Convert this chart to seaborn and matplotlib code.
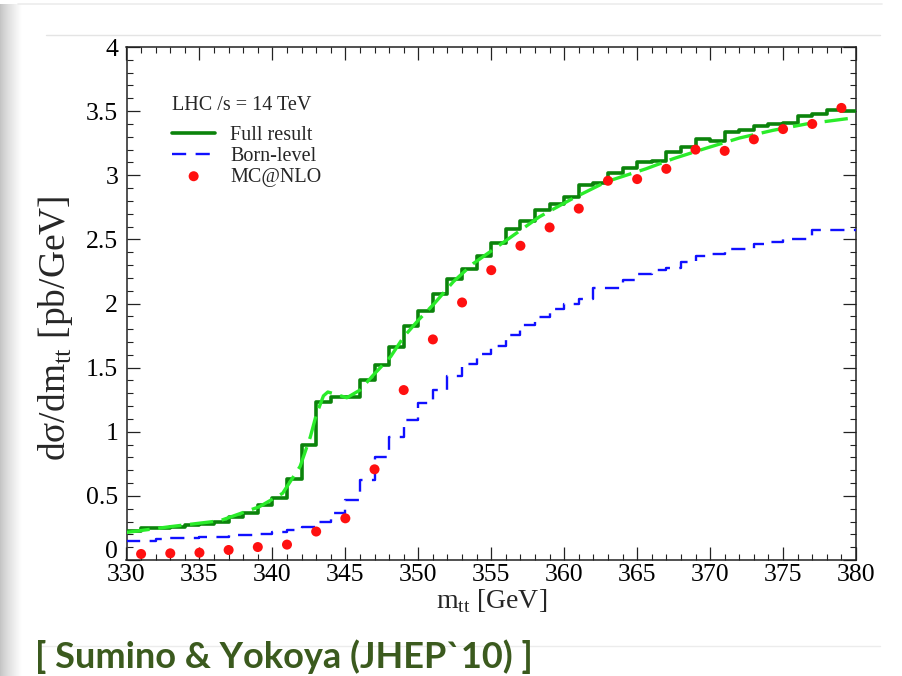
import numpy as np
import pandas as pd
import matplotlib
matplotlib.use("Agg")
import matplotlib.pyplot as plt
import seaborn as sns
from matplotlib.ticker import MultipleLocator, FixedLocator, FixedFormatter
from matplotlib.lines import Line2D
from matplotlib.transforms import ScaledTranslation

# ---------------- data ----------------
bin_start = list(range(330, 380))  # 1 GeV bins, 330..379 (upper edge 380)
full_result = [0.228, 0.247, 0.247, 0.26, 0.273, 0.28, 0.30, 0.333, 0.364, 0.426,
               0.48, 0.631, 0.896, 1.23, 1.273, 1.273, 1.40, 1.52, 1.658, 1.824,
               1.943, 2.073, 2.188, 2.266, 2.372, 2.473, 2.577, 2.645, 2.727, 2.775,
               2.827, 2.923, 2.936, 3.019, 3.058, 3.105, 3.11, 3.18, 3.22, 3.28,
               3.27, 3.338, 3.35, 3.385, 3.398, 3.41, 3.463, 3.48, 3.507, 3.50]
born_level = [0.15, 0.15, 0.16, 0.172, 0.175, 0.178, 0.182, 0.192, 0.196, 0.205,
              0.215, 0.235, 0.26, 0.30, 0.369, 0.468, 0.624, 0.80, 0.956, 1.088,
              1.226, 1.325, 1.434, 1.53, 1.603, 1.67, 1.754, 1.83, 1.896, 1.954,
              2.0, 2.034, 2.117, 2.117, 2.18, 2.227, 2.26, 2.274, 2.325, 2.37,
              2.385, 2.424, 2.424, 2.463, 2.478, 2.504, 2.504, 2.57, 2.57, 2.57]
bin_upper = 380

mcnlo_mass = list(range(331, 380, 2))
mcnlo = [0.047, 0.052, 0.057, 0.078, 0.101, 0.12, 0.222, 0.325, 0.707, 1.325,
         1.72, 2.008, 2.26, 2.45, 2.593, 2.74, 2.957, 2.97, 3.05, 3.20,
         3.19, 3.28, 3.36, 3.40, 3.525]

smooth_mass = [330, 333, 336.4, 339.1, 340.7, 341.9, 342.6, 343.0, 343.5, 343.8,
               344.4, 345.1, 346.0, 346.9, 348.1, 349.0, 350.0, 351.1, 352.4, 353.75,
               356.0, 358.3, 360.6, 362.9, 365.6, 367.5, 369.7, 372.0, 374.3, 376.6, 380.0]
smooth_vals = [0.215, 0.26, 0.306, 0.415, 0.52, 0.73, 0.96, 1.13, 1.28, 1.31,
               1.29, 1.265, 1.325, 1.44, 1.585, 1.74, 1.87, 2.0, 2.17, 2.31,
               2.49, 2.676, 2.82, 2.95, 3.05, 3.13, 3.21, 3.29, 3.35, 3.40, 3.45]

x_ticks = [330, 335, 340, 345, 350, 355, 360, 365, 370, 375, 380]
x_tick_labels = ["330", "335", "340", "345", "350", "355", "360", "365", "370", "375", "380"]
y_ticks = [0, 0.5, 1, 1.5, 2, 2.5, 3, 3.5, 4]
y_tick_labels = ["0", "0.5", "1", "1.5", "2", "2.5", "3", "3.5", "4"]

legend_title = "LHC /s = 14 TeV"
caption = "[ Sumino & Yokoya (JHEP`10) ]"

# ---------------- style ----------------
sns.set_theme(style="ticks")
plt.rcParams['font.family'] = ['Liberation Serif', 'DejaVu Serif']
plt.rcParams['mathtext.fontset'] = 'custom'
plt.rcParams['mathtext.rm'] = 'Liberation Serif'

W, H = 902, 676
fig = plt.figure(figsize=(W / 100, H / 100), dpi=100)
fig.patch.set_facecolor('white')

# slide decoration: left shadow and faint frame lines
sh = fig.add_axes([0, 0, 22 / W, 1 - 4 / H])
grad = np.linspace(0, 1, 64)[None, :] ** 0.8
sh.imshow(grad, cmap='gray', vmin=-3.2, vmax=1, aspect='auto', extent=[0, 1, 0, 1])
sh.set_axis_off()
fig.add_artist(Line2D([18 / W, 882 / W], [1 - 4 / H] * 2, color='#ececec', lw=1.2))
fig.add_artist(Line2D([46 / W, 880 / W], [1 - 35 / H] * 2, color='#e4e4e4', lw=1.0))
fig.add_artist(Line2D([40 / W, 880 / W], [1 - 646 / H] * 2, color='#ececec', lw=1.0))

ax = fig.add_axes([126.5 / W, 1 - 560 / H, (856 - 126.5) / W, (560 - 47) / H])
ax.set_facecolor('white')

# step histograms (append the last value at the upper edge)
df_full = pd.DataFrame({"m": bin_start + [bin_upper], "v": full_result + [full_result[-1]]})
df_born = pd.DataFrame({"m": bin_start + [bin_upper], "v": born_level + [born_level[-1]]})
df_smooth = pd.DataFrame({"m": smooth_mass, "v": smooth_vals})
df_mc = pd.DataFrame({"m": mcnlo_mass, "v": mcnlo})

sns.lineplot(data=df_full, x="m", y="v", ax=ax, drawstyle='steps-post', color='#0b830b',
             lw=2.6, label="Full result", estimator=None, sort=False, zorder=3)
sns.lineplot(data=df_born, x="m", y="v", ax=ax, drawstyle='steps-post', color='#1010ff',
             lw=1.7, label="Born-level", estimator=None, sort=False, zorder=3)
ax.lines[-1].set_dashes((6, 4))
sns.lineplot(data=df_smooth, x="m", y="v", ax=ax, color='#2aec2a', lw=2.4,
             estimator=None, sort=False, zorder=4)
ax.lines[-1].set_dashes((7, 2.6))
sns.scatterplot(data=df_mc, x="m", y="v", ax=ax, color='#ff1010', s=52,
                edgecolor='none', label="MC@NLO", zorder=5)

ax.set_xlim(330, 380)
ax.set_ylim(0, 4)
ax.xaxis.set_major_locator(FixedLocator(x_ticks))
ax.xaxis.set_major_formatter(FixedFormatter(x_tick_labels))
ax.xaxis.set_minor_locator(MultipleLocator(1))
ax.yaxis.set_major_locator(FixedLocator(y_ticks))
ax.yaxis.set_major_formatter(FixedFormatter(y_tick_labels))
ax.yaxis.set_minor_locator(MultipleLocator(0.1))

ax.tick_params(which='both', direction='in', top=True, right=True, colors='#222222')
ax.tick_params(which='major', length=9.4, width=0.9, labelsize=18.5, labelcolor='black')
ax.tick_params(which='minor', length=4.6, width=0.8)
ax.tick_params(axis='x', which='major', pad=3)
ax.tick_params(axis='y', which='major', pad=6)
for s in ax.spines.values():
    s.set_linewidth(1.1)
    s.set_color('#222222')
    s.set_visible(True)

# lift the "0" label a few pixels so it clears the "330" label
zero_lbl = ax.yaxis.get_major_ticks()[0].label1
zero_lbl.set_transform(zero_lbl.get_transform() + ScaledTranslation(0, 10 / 100, fig.dpi_scale_trans))

ax.set_xlabel("m$_\\mathregular{tt}$ [GeV]", fontsize=20, labelpad=1)
ax.set_ylabel("d\u03c3/dm$_\\mathregular{tt}$ [pb/GeV]", fontsize=27, labelpad=5)
ax.yaxis.set_label_coords(-0.071, 0.452)

leg = ax.legend(loc='upper left', bbox_to_anchor=(172 / W, 1 - 126 / H),
                bbox_transform=fig.transFigure, frameon=False, fontsize=14.5,
                handlelength=2.15, handletextpad=0.75, labelspacing=0.08,
                borderpad=0, borderaxespad=0)
fig.text(172 / W, 1 - 105 / H, legend_title, fontsize=14.5, ha='left', va='center')

fig.text(35 / W, 1 - 657 / H, caption, fontsize=26, fontweight='bold', color='#3b5a1e',
         family=['Lato', 'DejaVu Sans'], ha='left', va='center')

fig.savefig("out.png", dpi=100)
